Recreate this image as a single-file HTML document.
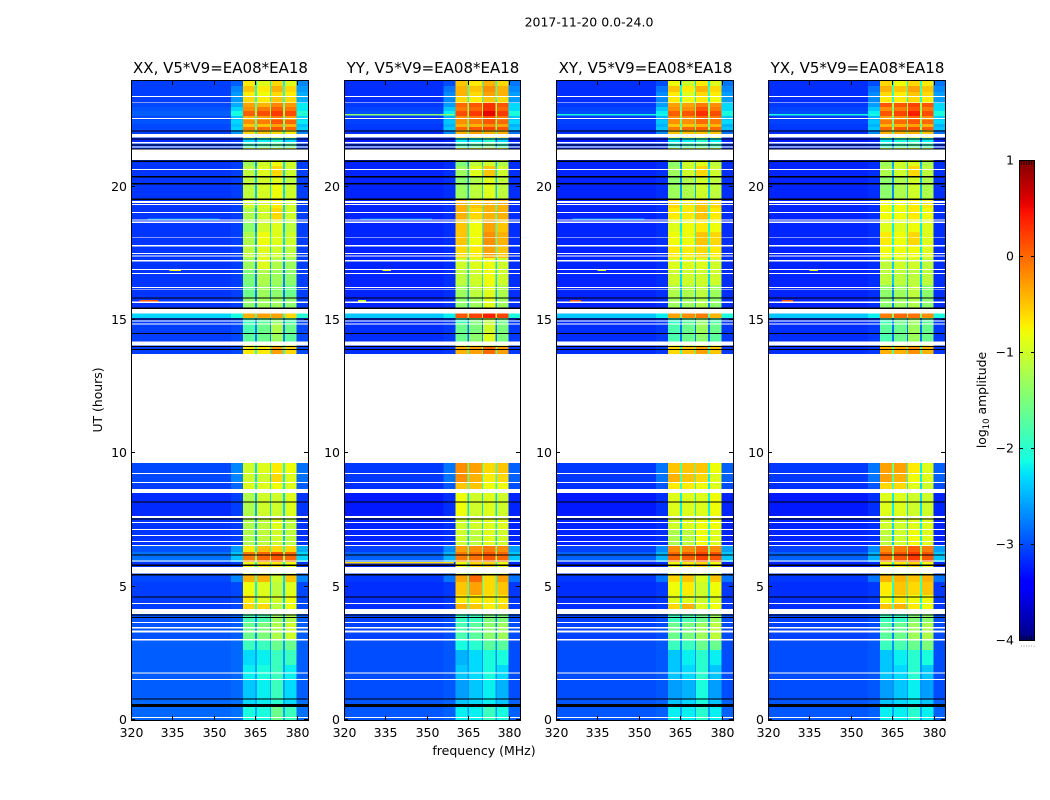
<!DOCTYPE html>
<html>
<head>
<meta charset="utf-8">
<title>2017-11-20 0.0-24.0</title>
<style>
html,body{margin:0;padding:0;background:#fff;width:1050px;height:800px;overflow:hidden}
svg{display:block}
text{font-family:"DejaVu Sans","Liberation Sans",sans-serif;fill:#000}
</style>
</head>
<body>
<svg id="figure" xmlns="http://www.w3.org/2000/svg" width="1050" height="800" viewBox="0 0 1050 800">
  <text x="589" y="26.5" text-anchor="middle" font-size="12.5">2017-11-20 0.0-24.0</text>
  <text x="484" y="755" text-anchor="middle" font-size="12.5">frequency (MHz)</text>
  <text transform="translate(102,400) rotate(-90)" text-anchor="middle" font-size="12.4">UT (hours)</text>
  <text transform="translate(986,400) rotate(-90)" text-anchor="middle" font-size="12.4">log<tspan font-size="8.5" dy="3">10</tspan><tspan dy="-3"> amplitude</tspan></text>
</svg>
<script>
const panelTitles = ["XX, V5*V9=EA08*EA18", "YY, V5*V9=EA08*EA18", "XY, V5*V9=EA08*EA18", "YX, V5*V9=EA08*EA18"];
const xTickValues = [320, 335, 350, 365, 380];
const yTickValues = [0, 5, 10, 15, 20];
const colorbarTicks = [1, 0, -1, -2, -3, -4];

// Frequency column edges (MHz): background, ramp, block, gap, block, gap, block, gap, block, right
const channelEdgesMHz = [320, 356.2, 360.5, 364.9, 365.5, 370.2, 370.6, 375, 375.6, 379.8, 384];

// Time band edges (UT hours), top to bottom
const bandEdgesUT = [24, 23.775, 23.55, 23.363, 23.138, 22.988, 22.838, 22.65, 22.5, 22.35, 22.238, 22.125, 21.975, 21.825, 21.675, 21.45, 21.375, 20.963, 20.775, 20.4, 20.063, 19.538, 19.2, 18.75, 18.3, 17.813, 17.325, 16.875, 16.313, 15.863, 15.413, 15.244, 15.075, 14.888, 14.513, 14.175, 14.025, 13.725, 9.638, 9.263, 8.925, 8.513, 7.613, 7.125, 6.563, 6.3, 5.925, 5.738, 5.438, 5.175, 4.688, 4.35, 3.975, 3.675, 3, 2.625, 2.063, 1.5, 0.75, 0.525, 0];

// log10 amplitude per band outside the four bright blocks
const backgroundLevels = [-3.15,-3.15,-3.15,-3.15,-3.1,-3.05,-3,-3.1,-3.05,-3.1,-3.1,-3.15,-3.2,-3.25,-3.15,-3.2,-3.2,-3.2,-3.2,-3.2,-3.2,-3.2,-3.2,-3.2,-3.2,-3.2,-3.2,-3.2,-3.2,-3.2,-3.2,-2.4,-3.15,-3.15,-3.15,-3.15,-3.15,-3.15,-3.1,-3.1,-3.15,-3.25,-3.2,-3.2,-3.05,-2.9,-3.2,-3.1,-3.1,-3.15,-3.15,-3.15,-3.05,-3.05,-3,-3,-3,-3,-2.95,-2.95];
const rampLevels = [-3,-2.8,-2.7,-2.7,-2.6,-2.4,-2.2,-2.5,-2.4,-2.5,-2.4,-2.7,-3.15,-3.2,-3.1,-3.2,-3.2,-3.15,-3.15,-3.15,-3.15,-3.15,-3.15,-3.15,-3.15,-3.15,-3.15,-3.15,-3.15,-3.15,-3.15,-2.2,-3.1,-3.1,-3.1,-3.1,-3.1,-3.1,-2.8,-2.8,-2.95,-3.15,-3.15,-3.15,-2.7,-2.5,-3.15,-3.1,-2.8,-3.1,-3.1,-3.1,-3,-3,-2.95,-2.95,-2.95,-2.95,-2.9,-2.9];
const rightLevels = [-2.8,-2.7,-2.6,-2.6,-2.3,-2.3,-2.1,-2.4,-2.3,-2.5,-2.4,-2.8,-3.1,-3.2,-3.1,-3.2,-3.2,-3.15,-3.15,-3.15,-3.15,-3.15,-3.15,-3.15,-3.15,-3.15,-3.15,-3.15,-3.15,-3.15,-3.15,-2.1,-3.1,-3.1,-3.1,-3.1,-3.1,-3.1,-2.9,-2.9,-3,-3.2,-3.2,-3.2,-2.6,-2.4,-3.2,-3.1,-2.8,-3.1,-3.1,-3.1,-3,-3,-3,-3,-3,-3,-2.9,-2.9];

// Block levels per band: four bright frequency blocks
const xxBlocks = [[-.7,-.9,-.6,-.9],[-.5,-.7,-.4,-.6],[-.7,-.8,-.6,-.7],[-.6,-.7,-.5,-.6],[-.3,-.4,-.15,-.25],[-.2,-.1,.05,-.1],[.05,.15,.25,.15],[-.4,-.3,-.1,-.3],[-.2,-.1,.1,0],[-.5,-.5,-.3,-.4],[-.1,0,.1,0],[-.6,-.5,-.6,-.7],[-.9,-.9,-.9,-.9],[-2.3,-2.2,-2,-2.3],[-1.9,-1.8,-1.7,-1.7],[-.8,-.8,-.8,-.8],[-1,-1,-1,-1],[-1.3,-1,-.8,-1],[-1.1,-.9,-.6,-1],[-1.1,-1,-.9,-1.1],[-1.1,-.95,-.8,-1],[-1,-.9,-.7,-1],[-1.2,-1,-.6,-1],[-1.4,-1,-.9,-1.1],[-1.2,-.8,-.9,-1],[-1.1,-.9,-1,-1.1],[-1.3,-.9,-1.2,-1.3],[-1.5,-1.2,-1.3,-1.4],[-1.6,-1.3,-1.4,-1.6],[-1.4,-1.3,-1.3,-1.4],[-1,-1,-1,-1],[-.4,-.3,-.3,-.6],[-1.9,-1.7,-1.4,-1.8],[-1.8,-1.6,-1.2,-1.6],[-1.7,-1.6,-1.3,-1.7],[-1,-1,-1,-1],[-.7,-.7,-.3,-.6],[-1,-1,-1,-1],[-1,-.9,-.7,-.8],[-1,-1,-.6,-.9],[-.9,-.9,-.8,-.9],[-1.2,-1,-1,-.9],[-1.2,-1.1,-.9,-1.1],[-1.2,-1.1,-1,-1.1],[-.7,-.5,-.6,-.6],[-.1,0,.1,0],[-.8,-.7,-.7,-.8],[-1,-1,-1,-1],[-.4,-.4,-1,-.5],[-.8,-.9,-1.1,-.9],[-.7,-.9,-1,-.8],[-.6,-.6,-1.1,-.8],[-1.8,-1.8,-1.3,-1.2],[-1.6,-1.5,-1.2,-1],[-1.9,-1.9,-1.6,-1.6],[-2.3,-2.2,-1.9,-1.9],[-2.2,-2.1,-1.9,-2.2],[-2.4,-2.2,-1.9,-2.3],[-2.3,-2.2,-2,-2.3],[-2.1,-2.1,-1.6,-1.9]];
const yyBlocks = [[-.5,-.7,-.4,-.6],[-.4,-.5,-.2,-.4],[-.4,-.6,-.3,-.4],[-.6,-.7,-.5,-.6],[0,.1,.3,.1],[-.1,0,.3,0],[.15,.25,.55,.25],[-.2,-.1,.1,-.1],[-.2,-.1,.1,0],[-.4,-.4,-.2,-.3],[0,.1,.2,.1],[-.4,-.3,-.4,-.4],[-.6,-.6,-.6,-.6],[-2.2,-2.2,-2,-2.3],[-1.9,-1.8,-1.6,-1.9],[-.7,-.7,-.5,-.7],[-1,-1,-1,-1],[-1.5,-1.1,-1,-1.2],[-1.3,-.9,-.5,-1],[-1.4,-1.2,-.9,-1.1],[-1.3,-1.1,-.9,-1.1],[-.4,-.5,-.4,-.4],[-.4,-.6,-.4,-.4],[-.5,-.8,-.3,-.5],[-.5,-.8,-.2,-.4],[-.6,-.7,-.3,-.5],[-1,-.9,-.8,-1],[-1.1,-1,-.8,-1],[-1.3,-1.1,-.9,-1.2],[-1.4,-1.3,-.9,-1.3],[-1,-1,-1,-1],[.1,.2,.4,.2],[-1.9,-1.5,-1.1,-1.6],[-1.6,-1.5,-1,-1.5],[-1.6,-1.4,-.9,-1.5],[-1,-1,-1,-1],[-.4,-.3,0,-.3],[-1,-1,-1,-1],[-.2,-.3,-.6,-.5],[-.2,-.4,-.7,-.6],[-.5,-.5,-.8,-.8],[-.8,-1,-.9,-1],[-1,-1,-.9,-.9],[-1,-1.1,-.9,-1],[-.3,-.2,-.1,-.2],[-.1,-.05,.1,0],[-.8,-.6,-.6,-.8],[-1,-1,-1,-1],[-.3,0,-.6,-.3],[-.5,-.3,-.6,-.5],[-.7,-.7,-.7,-.7],[-.4,-.5,-.7,-.6],[-1.9,-1.9,-1.5,-1.5],[-1.8,-1.7,-1.4,-1.3],[-2.1,-2,-1.7,-1.7],[-2.5,-2.3,-2.1,-2.1],[-2.4,-2.3,-2.1,-2.3],[-2.6,-2.4,-2.2,-2.5],[-2.4,-2.3,-2.2,-2.4],[-2.2,-2.2,-1.9,-2.1]];
const xyBlocks = [[-.8,-1,-.7,-.9],[-.5,-.7,-.4,-.6],[-.7,-.9,-.6,-.7],[-.7,-.8,-.7,-.8],[-.3,-.3,-.1,-.2],[-.2,-.2,.1,-.1],[.05,.1,.3,.15],[-.2,-.2,0,-.1],[-.2,-.2,0,-.1],[-.5,-.5,-.4,-.4],[-.1,0,.05,0],[-.5,-.5,-.5,-.5],[-.8,-.8,-.8,-.8],[-2.2,-2.2,-2,-2.2],[-2,-1.9,-1.8,-1.9],[-.9,-.9,-.8,-.9],[-1,-1,-1,-1],[-1.4,-1,-.9,-1.1],[-1.3,-1,-.6,-1],[-1.4,-1.2,-1,-1.1],[-1.3,-1.2,-1,-1.1],[-.6,-.7,-.5,-.6],[-.7,-.7,-.5,-.7],[-.9,-.8,-.7,-.8],[-.8,-.8,-.5,-.6],[-.7,-.7,-.6,-.7],[-.9,-.9,-.9,-1],[-1,-1,-1,-1],[-1.2,-1.2,-1.1,-1.3],[-1.3,-1.3,-1.2,-1.4],[-1,-1,-1,-1],[-.3,-.2,-.1,-.4],[-2,-1.7,-1.4,-1.8],[-1.8,-1.6,-1.3,-1.6],[-1.8,-1.6,-1.4,-1.7],[-1,-1,-1,-1],[-.6,-.5,-.3,-.5],[-1,-1,-1,-1],[-.5,-.5,-.5,-.8],[-.4,-.5,-.6,-.9],[-.7,-.7,-.8,-.9],[-.9,-.9,-.9,-.8],[-1,-.9,-.8,-.8],[-1.2,-1.1,-.8,-.9],[-.2,-.2,0,-.2],[0,.05,.2,.1],[-.8,-.7,-.6,-.8],[-1,-1,-1,-1],[-.6,-.5,-.9,-.5],[-.8,-.7,-1,-.8],[-.9,-.9,-1,-.9],[-.6,-.4,-.9,-.8],[-1.9,-1.8,-1.6,-1.3],[-1.6,-1.5,-1.3,-1.1],[-1.9,-1.9,-1.6,-1.6],[-2.4,-2.2,-2,-2.2],[-2.4,-2.3,-2,-2.4],[-2.6,-2.5,-2.1,-2.6],[-2.4,-2.3,-2.1,-2.4],[-2.2,-2.2,-2,-2.2]];
const yxBlocks = [[-.6,-.8,-.6,-.7],[-.4,-.5,-.3,-.5],[-.6,-.7,-.5,-.6],[-.7,-.7,-.6,-.7],[.1,.1,.2,.1],[-.2,-.1,.1,-.1],[.1,.2,.4,.15],[-.3,-.2,0,-.2],[-.1,0,.1,0],[-.4,-.4,-.3,-.4],[0,.1,.15,.05],[-.4,-.4,-.4,-.5],[-.8,-.8,-.8,-.8],[-2.2,-2.1,-2,-2.2],[-2,-1.9,-1.8,-1.9],[-.9,-.8,-.8,-.9],[-1,-1,-1,-1],[-1.3,-1,-.9,-1.2],[-1.2,-1,-.6,-1.1],[-1.4,-1.2,-1,-1.2],[-1.4,-1.2,-1,-1.2],[-.8,-.8,-.7,-.7],[-.8,-.8,-.7,-.8],[-.9,-.9,-.8,-.9],[-.7,-.8,-.6,-.9],[-.8,-.8,-.8,-.9],[-1.1,-1,-1,-1.1],[-1.1,-1.1,-1.1,-1.1],[-1.4,-1.3,-1.1,-1.4],[-1.4,-1.3,-1.2,-1.4],[-1,-1,-1,-1],[-.1,0,-.05,-.2],[-1.9,-1.6,-1.3,-1.7],[-1.7,-1.6,-1.3,-1.6],[-1.8,-1.6,-1.3,-1.6],[-1,-1,-1,-1],[-.4,-.4,-.2,-.4],[-1,-1,-1,-1],[-.3,-.3,-.7,-.9],[-.3,-.4,-.8,-.9],[-.6,-.6,-.9,-1],[-.9,-.9,-1,-1],[-1,-1,-.9,-.9],[-1.1,-1,-.8,-.9],[-.2,-.1,.05,-.1],[0,.1,.25,.1],[-.8,-.7,-.6,-.8],[-1,-1,-1,-1],[-.4,-.4,-.5,-.4],[-.7,-.5,-.6,-.5],[-.8,-.7,-.8,-.8],[-.5,-.4,-.7,-.8],[-1.9,-1.9,-1.5,-1.4],[-1.7,-1.6,-1.3,-1.2],[-1.9,-1.8,-1.6,-1.5],[-2.4,-2.2,-2,-2.1],[-2.4,-2.3,-2,-2.4],[-2.6,-2.4,-2.2,-2.6],[-2.4,-2.3,-2.2,-2.4],[-2.2,-2.2,-2,-2.2]];
const panelBackgroundShift = [0.08, 0, 0, 0];

// Flagged (white) UT intervals: [start, end]
const flaggedWhiteUT = [[23.4,23.36],[23.18,23.15],[22.57,22.53],[21.975,21.85],[21.675,21.61],[21.51,21.46],[21.39,21],[20.66,20.62],[19.46,19.39],[19.35,19.31],[19.05,19.02],[18.77,18.74],[18.69,18.63],[18.12,18.09],[17.81,17.75],[17.52,17.48],[17.42,17.38],[17.25,17.2],[16.91,16.875],[16.76,16.72],[16.24,16.2],[16.14,16.12],[15.69,15.63],[15.41,15.25],[14.98,14.94],[14.87,14.83],[14.19,14.04],[13.73,9.64],[9.265,9.225],[8.93,8.89],[8.66,8.51],[7.65,7.58],[7.43,7.39],[7.16,7.12],[6.94,6.9],[6.72,6.68],[6.57,6.53],[5.98,5.94],[5.74,5.49],[4.39,4.35],[4.16,3.98],[3.67,3.63],[3.48,3.44],[3.36,3.29],[3.03,2.99],[1.78,1.74],[1.54,1.5],[0.12,0.08]];
// Black (zero-amplitude) UT intervals: [start, end]
const flaggedBlackUT = [[22.11,22.07],[21.8,21.76],[21.58,21.54],[21.43,21.39],[20.98,20.92],[20.4,20.34],[20.13,20.09],[19.56,19.5],[15.84,15.8],[15.46,15.41],[15.06,15.02],[14.52,14.48],[14.03,13.99],[13.91,13.87],[8.2,8.16],[7.56,7.52],[6.2,6.16],[5.83,5.77],[5.47,5.41],[4.64,4.6],[3.95,3.91],[3.87,3.83],[0.8,0.76],[0.6,0.49]];
// Narrow interference features: [UT, start MHz, end MHz, level]
const xxInterference = [[15.75,323,330,.1],[16.9,334,338,-.8],[18.8,326,352,-2.6]];
const yyInterference = [[15.75,325,328,-1],[16.9,334,337,-.9],[5.93,320,360,-.6],[22.72,320,360,-1.4],[18.8,326,352,-2.7]];
const xyInterference = [[15.75,325,329,.1],[16.9,335,338,-1],[22.72,320,360,-2.1],[18.8,326,352,-2.6]];
const yxInterference = [[15.75,325,329,.1],[16.9,335,338,-1],[22.72,320,360,-2.1]];

const panelBlocks = [xxBlocks, yyBlocks, xyBlocks, yxBlocks];
const panelInterference = [xxInterference, yyInterference, xyInterference, yxInterference];

const svg = document.getElementById('figure');
const NS = 'http://www.w3.org/2000/svg';
const panelBoxes = [[131,308],[344,520],[556,733],[768,945]];
const plotTop = 80, plotBottom = 720;
const cbLeft = 1019, cbRight = 1034, cbTop = 160, cbBottom = 640;

function mk(tag, attrs, parent) {
  const e = document.createElementNS(NS, tag);
  for (const k in attrs) e.setAttribute(k, attrs[k]);
  parent.appendChild(e);
  return e;
}
function interp(f, pts) {
  for (let i = 1; i < pts.length; i++) {
    if (f <= pts[i][0]) {
      const a = pts[i-1], b = pts[i];
      return a[1] + (b[1]-a[1]) * (f-a[0]) / (b[0]-a[0]);
    }
  }
  return pts[pts.length-1][1];
}
function jet(v) {
  const f = Math.max(0, Math.min(1, (v + 4) / 5));
  const r = interp(f, [[0,0],[.35,0],[.66,1],[.89,1],[1,.5]]);
  const g = interp(f, [[0,0],[.125,0],[.375,1],[.64,1],[.91,0],[1,0]]);
  const b = interp(f, [[0,.5],[.11,1],[.34,1],[.65,0],[1,0]]);
  return 'rgb(' + Math.round(r*255) + ',' + Math.round(g*255) + ',' + Math.round(b*255) + ')';
}
function yScale(ut) { return plotBottom - (ut / 24) * (plotBottom - plotTop); }
function xScale(box, mhz) { return box[0] + (mhz - 320) / 64 * (box[1] - box[0]); }

function columnLevels(bandIndex, blocks, shift) {
  const b = blocks[bandIndex];
  const bg = backgroundLevels[bandIndex] + shift;
  const gap = (p, q) => Math.max(bg + 0.35, Math.min(p, q) - 1.3);
  return [bg, rampLevels[bandIndex] + shift, b[0], gap(b[0], b[1]), b[1], gap(b[1], b[2]), b[2], gap(b[2], b[3]), b[3], rightLevels[bandIndex] + shift];
}

panelTitles.forEach(function (title, p) {
  const box = panelBoxes[p];
  const group = mk('g', {}, svg);
  
  

  const heat = mk('g', {'shape-rendering': 'crispEdges'}, group);
  
  
  for (let i = 0; i < bandEdgesUT.length - 1; i++) {
    const levels = columnLevels(i, panelBlocks[p], panelBackgroundShift[p]);
    const y0 = yScale(bandEdgesUT[i]), y1 = yScale(bandEdgesUT[i + 1]);
    for (let c = 0; c < levels.length; c++) {
      const x0 = xScale(box, channelEdgesMHz[c]), x1 = xScale(box, channelEdgesMHz[c + 1]);
      const cell = mk('rect', {x: x0, y: y0, width: x1 - x0 + 0.5, height: y1 - y0 + 0.5, fill: jet(levels[c])}, heat);
      
      
    }
  }
  panelInterference[p].forEach(function (d) {
    const x0 = xScale(box, d[1]), x1 = xScale(box, d[2]);
    const line = mk('rect', {x: x0, y: yScale(d[0]), width: x1 - x0, height: 1.5, fill: jet(d[3])}, heat);
    
    
  });
  flaggedWhiteUT.forEach(function (d) {
    const y0 = yScale(d[0]), y1 = yScale(d[1]);
    const band = mk('rect', {x: box[0], y: y0, width: box[1] - box[0], height: y1 - y0, fill: '#fff'}, heat);
    
    
  });
  flaggedBlackUT.forEach(function (d) {
    const y0 = yScale(d[0]), y1 = yScale(d[1]);
    const band = mk('rect', {x: box[0], y: y0, width: box[1] - box[0], height: y1 - y0, fill: '#000'}, heat);
    
    
  });

  const frame = mk('rect', {x: box[0] + 0.5, y: plotTop + 0.5, width: box[1] - box[0], height: plotBottom - plotTop, fill: 'none', stroke: '#000', 'stroke-width': 1}, group);
  
  

  const t = mk('text', {x: (box[0] + box[1]) / 2 + 1, y: 73, 'text-anchor': 'middle', 'font-size': 15}, group);
  t.textContent = title;
  
  

  xTickValues.forEach(function (v) {
    const x = Math.round(xScale(box, v)) + 0.5;
    const tk = mk('path', {d: 'M' + x + ' ' + plotBottom + 'v-4M' + x + ' ' + (plotTop + 1) + 'v4', stroke: '#000', 'stroke-width': 1}, group);
    
    
    const lab = mk('text', {x: x, y: 737, 'text-anchor': 'middle', 'font-size': 12.5}, group);
    lab.textContent = v;
    
    
  });
  yTickValues.forEach(function (v) {
    const y = Math.round(yScale(v)) - 0.5;
    const tk = mk('path', {d: 'M' + box[0] + ' ' + y + 'h4M' + box[1] + ' ' + y + 'h-4', stroke: '#000', 'stroke-width': 1}, group);
    
    
    const lab = mk('text', {x: box[0] - 4, y: y + 4.5, 'text-anchor': 'end', 'font-size': 12.5}, group);
    lab.textContent = v;
    
    
  });
});

// Colorbar
const defs = mk('defs', {}, svg);
const grad = mk('linearGradient', {id: 'jetGrad', x1: 0, y1: 1, x2: 0, y2: 0}, defs);
for (let i = 0; i <= 64; i++) {
  mk('stop', {offset: (i / 64), 'stop-color': jet(-4 + 5 * i / 64)}, grad);
}
const cb = mk('g', {}, svg);


const cbRect = mk('rect', {x: cbLeft + 0.5, y: cbTop + 0.5, width: cbRight - cbLeft, height: cbBottom - cbTop, fill: 'url(#jetGrad)', stroke: '#000', 'stroke-width': 1}, cb);


colorbarTicks.forEach(function (v) {
  const y = Math.round(cbBottom - (v + 4) / 5 * (cbBottom - cbTop)) + 0.5;
  const tk = mk('path', {d: 'M' + cbLeft + ' ' + y + 'h4M' + (cbRight + 1) + ' ' + y + 'h-4', stroke: '#000', 'stroke-width': 1}, cb);
  
  
  const lab = mk('text', {x: cbLeft - 5, y: y + 4, 'text-anchor': 'end', 'font-size': 12.5}, cb);
  lab.textContent = v < 0 ? '\u2212' + Math.abs(v) : String(v);
  
  
});
for (let i = 0; i < 6; i++) {
  const x = cbLeft + 2.5 + i * 2.5;
  const tk = mk('path', {d: 'M' + x + ' ' + (cbTop + 1) + 'v4M' + x + ' ' + cbBottom + 'v-4', stroke: '#000', 'stroke-width': 0.7}, cb);
  
  
  const dot = mk('rect', {x: x - 0.5, y: 645.5, width: 1, height: 1, fill: '#999'}, cb);
  
  
}
</script>
</body>
</html>
